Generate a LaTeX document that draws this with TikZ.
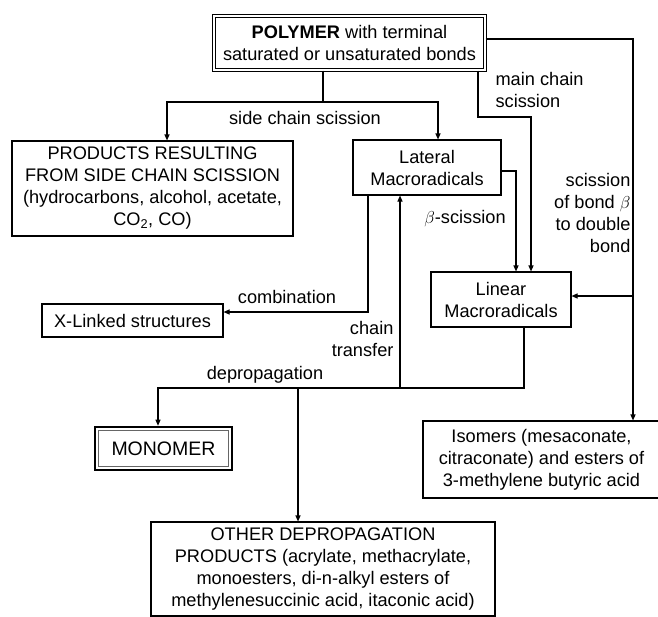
\documentclass[tikz,border=0pt]{standalone}
\usepackage{fontspec}
\setmainfont{Liberation Sans}
\usetikzlibrary{arrows.meta}
\begin{document}
\begin{tikzpicture}[x=1pt,y=-1pt, line width=1.1pt,
  font=\fontsize{18.2}{22}\selectfont,
  box/.style={draw, rectangle, inner sep=0pt, align=center},
  arr/.style={-{Triangle[length=6pt,width=5pt]}},
  lbl/.style={inner sep=0pt, align=center}]
\useasboundingbox (0,0) rectangle (658,616);

% boxes
\node[box, double, double distance=2pt, line width=0.8pt,
      minimum width=271.5pt, minimum height=54.5pt] (poly) at (349.5,43)
  {\textbf{POLYMER} with terminal\\saturated or unsaturated bonds};
\node[box, minimum width=281pt, minimum height=95pt] (prod) at (152.5,188.5)
  {PRODUCTS RESULTING\\FROM SIDE CHAIN SCISSION\\(hydrocarbons, alcohol, acetate,\\CO\textsubscript{2}, CO)};
\node[box, minimum width=148pt, minimum height=55pt] (lat) at (427,167.5)
  {Lateral\\Macroradicals};
\node[box, minimum width=140pt, minimum height=55pt] (lin) at (501,299.5)
  {Linear\\Macroradicals};
\node[box, minimum width=181pt, minimum height=33pt] (xl) at (132.5,320.5)
  {X-Linked structures};
\node[box, line width=2.6pt, minimum width=137pt, minimum height=43pt,
      font=\fontsize{19.5}{22}\selectfont] (mono) at (163.5,448.5)
  {MONOMER};
\draw[black!60, line width=0.9pt] ([shift={(5,5)}]mono.north west) rectangle ([shift={(-5,-5)}]mono.south east);
\node[box, minimum width=237pt, minimum height=77pt] (iso) at (541.5,459.5)
  {Isomers (mesaconate,\\citraconate) and esters of\\3-methylene butyric acid};
\node[box, minimum width=344pt, minimum height=94pt] (other) at (323,569)
  {OTHER DEPROPAGATION\\PRODUCTS (acrylate, methacrylate,\\monoesters, di-n-alkyl esters of\\methylenesuccinic acid, itaconic acid)};

% junction coordinates
\coordinate (j1) at (323,102);
\coordinate (a1) at (167,102);
\coordinate (a2) at (438,102);
\coordinate (m1) at (478,117);
\coordinate (m2) at (531,117);
\coordinate (r1) at (633,39);
\coordinate (r2) at (633,296);
\coordinate (b1) at (516,171);
\coordinate (c1) at (368,312);
\coordinate (d1) at (524,388);
\coordinate (d2) at (158,388);
\coordinate (d3) at (298,388);
\coordinate (d4) at (400,388);

% connectors
\draw (j1 |- poly.south) -- (j1);
\draw[arr] (j1) -- (a1) -- (a1 |- prod.north);
\draw[arr] (j1) -- (a2) -- (a2 |- lat.north);
\draw[arr] (m1 |- poly.south) -- (m1) -- (m2) -- (m2 |- lin.north);
\draw[arr] (poly.east |- r1) -- (r1) -- (r1 |- iso.north);
\draw[arr] (r2) -- (r2 -| lin.east);
\draw[arr] (lat.east |- b1) -- (b1) -- (b1 |- lin.north);
\draw[arr] (c1 |- lat.south) -- (c1) -- (c1 -| xl.east);
\draw[arr] (d1 |- lin.south) -- (d1) -- (d2) -- (d2 |- mono.north);
\draw[arr] (d3) -- (d3 |- other.north);
\draw[arr] (d4) -- (d4 |- lat.south);

% labels
\node[lbl] (l1) at (305,118) {side chain scission};
\node[lbl, align=left, anchor=west] (l2) at (495,90) {main chain\\scission};
\node[lbl, align=right, anchor=east] (l3) at (631,213) {scission\\of bond $\beta$\\to double\\bond};
\node[lbl] (l4) at (465,219) {$\beta$-scission};
\node[lbl] (l5) at (287,297) {combination};
\node[lbl, align=right, anchor=east] (l6) at (394,339) {chain\\transfer};
\node[lbl] (l7) at (265,375) {depropagation};
\end{tikzpicture}
\end{document}
